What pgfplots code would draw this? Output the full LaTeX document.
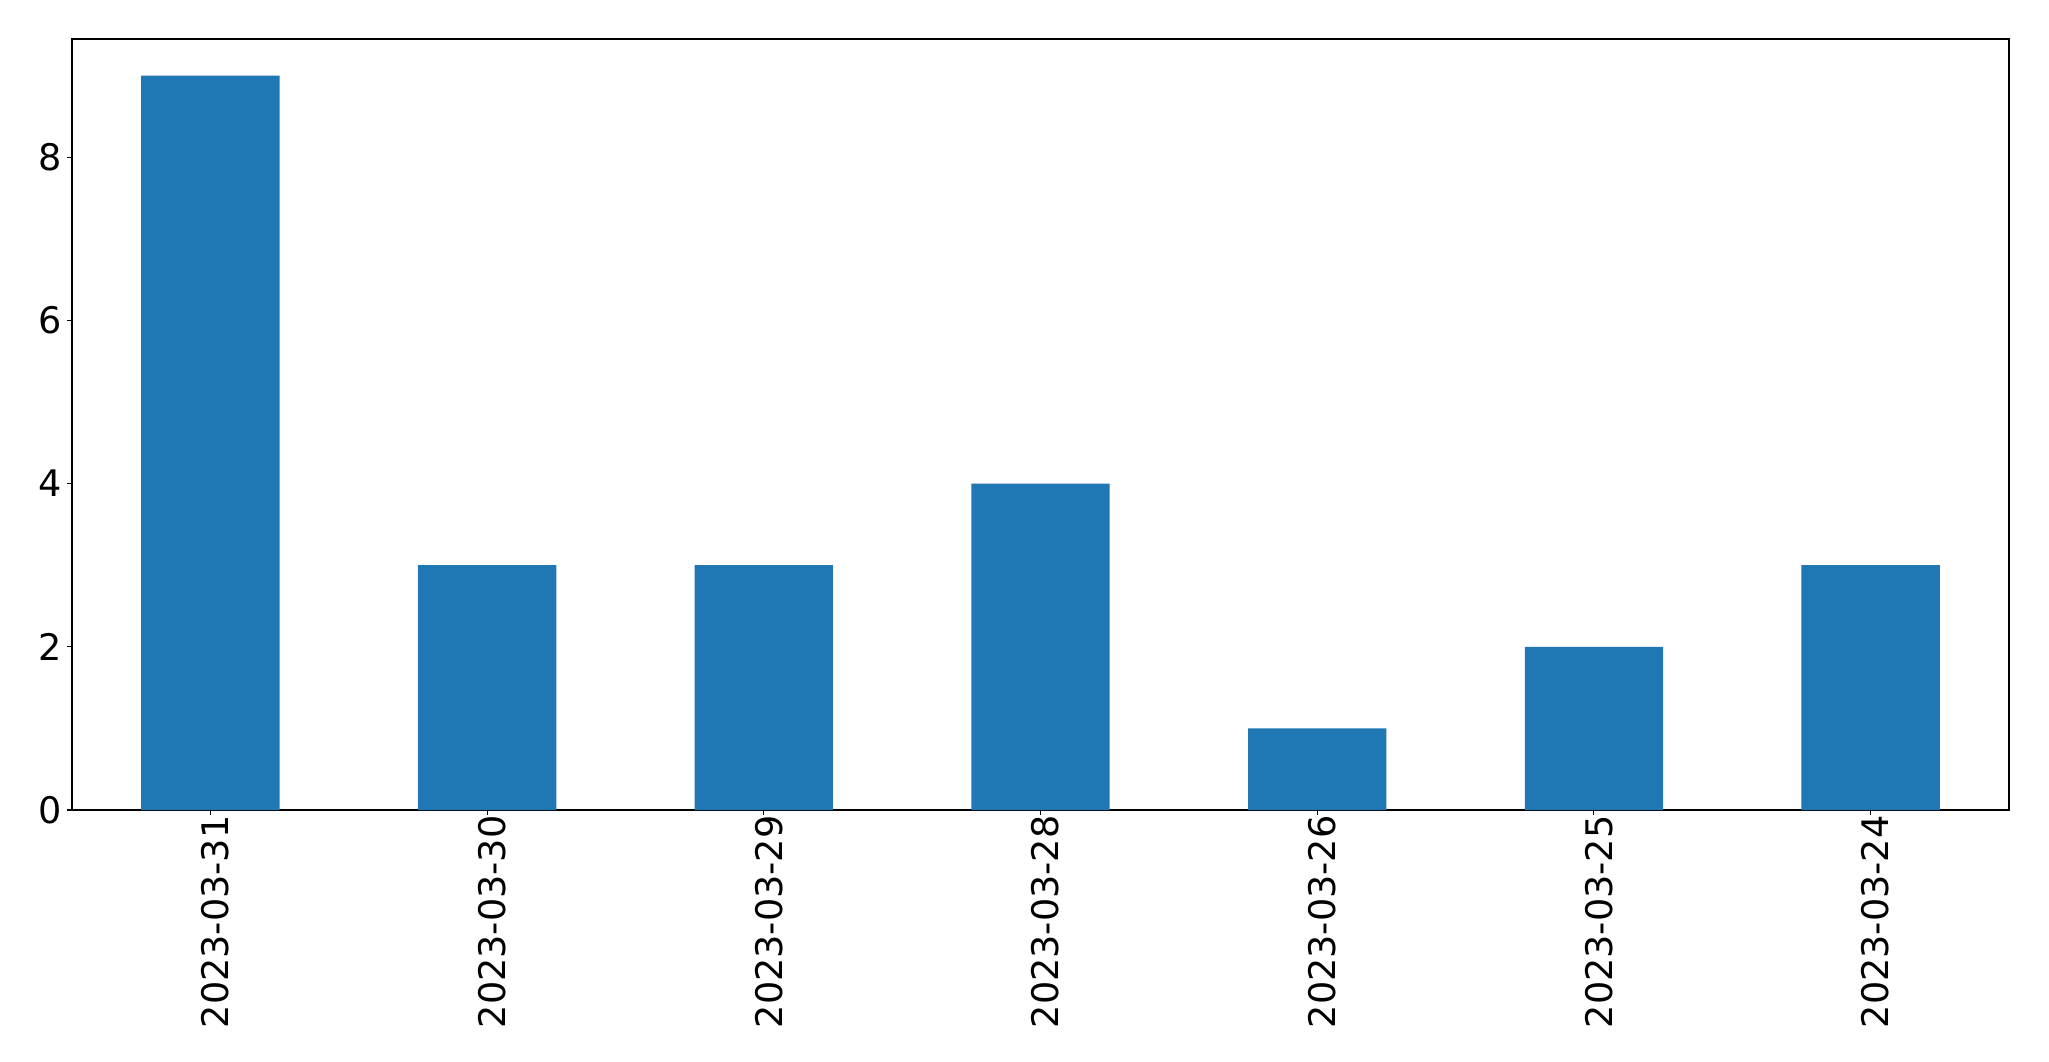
\documentclass[border=0pt]{standalone}
\usepackage{pgfplots}
\pgfplotsset{compat=1.18}
\usepackage{fontspec}
\setmainfont{DejaVu Sans}
\definecolor{barblue}{HTML}{1F77B4}
\begin{document}
\begin{tikzpicture}
\path[use as bounding box] (-36pt,-125.5pt) rectangle (988.5pt,405pt);
\begin{axis}[
  at={(0,0)}, anchor=south west,
  scale only axis, width=968.5pt, height=385.5pt,
  xmin=-0.5, xmax=6.5, ymin=0, ymax=9.45,
  xtick={0,1,2,3,4,5,6},
  xticklabels={2023-03-31,2023-03-30,2023-03-29,2023-03-28,2023-03-26,2023-03-25,2023-03-24},
  ytick={0,2,4,6,8},
  tick align=outside, tick pos=left,
  major tick length=2.5pt,
  axis line style={line width=0.55pt},
  every tick/.style={black, line width=0.55pt},
  /pgf/number format/assume math mode=true,
  ticklabel style={font=\fontsize{18.3}{22}\selectfont},
  xticklabel style={rotate=90, anchor=east, inner sep=0pt, yshift=-2.5pt},
  yticklabel style={anchor=east, inner sep=0pt, xshift=-2.5pt},
]
\addplot[ybar, bar width=0.5, fill=barblue, draw=none] coordinates {(0,9) (1,3) (2,3) (3,4) (4,1) (5,2) (6,3)};
\end{axis}
\end{tikzpicture}
\end{document}
